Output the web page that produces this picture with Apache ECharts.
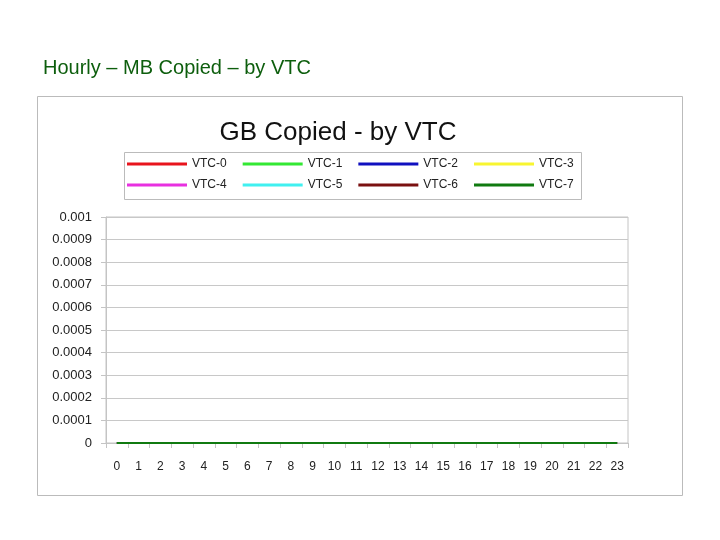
<!DOCTYPE html>
<html>
<head>
<meta charset="utf-8">
<script src="https://cdn.jsdelivr.net/npm/echarts@6/dist/echarts.min.js"></script>
<style>
  html, body { margin: 0; padding: 0; background: #fff; }
  #main { width: 720px; height: 540px; }
</style>
</head>
<body>
<div id="main"></div>
<script>
// hours of the day on the x axis
var hours = ['0','1','2','3','4','5','6','7','8','9','10','11','12','13','14','15','16','17','18','19','20','21','22','23'];
var vtcNames = ['VTC-0', 'VTC-1', 'VTC-2', 'VTC-3', 'VTC-4', 'VTC-5', 'VTC-6', 'VTC-7'];
var vtcColors = ['#e8141c', '#33e833', '#1010c0', '#f8f530', '#e830e0', '#40f0f0', '#7a1010', '#107a10'];
// GB copied per hour, nothing copied at all in the picture
var vtc0 = [0,0,0,0,0,0,0,0,0,0,0,0,0,0,0,0,0,0,0,0,0,0,0,0];
var vtc1 = [0,0,0,0,0,0,0,0,0,0,0,0,0,0,0,0,0,0,0,0,0,0,0,0];
var vtc2 = [0,0,0,0,0,0,0,0,0,0,0,0,0,0,0,0,0,0,0,0,0,0,0,0];
var vtc3 = [0,0,0,0,0,0,0,0,0,0,0,0,0,0,0,0,0,0,0,0,0,0,0,0];
var vtc4 = [0,0,0,0,0,0,0,0,0,0,0,0,0,0,0,0,0,0,0,0,0,0,0,0];
var vtc5 = [0,0,0,0,0,0,0,0,0,0,0,0,0,0,0,0,0,0,0,0,0,0,0,0];
var vtc6 = [0,0,0,0,0,0,0,0,0,0,0,0,0,0,0,0,0,0,0,0,0,0,0,0];
var vtc7 = [0,0,0,0,0,0,0,0,0,0,0,0,0,0,0,0,0,0,0,0,0,0,0,0];
var allData = [vtc0, vtc1, vtc2, vtc3, vtc4, vtc5, vtc6, vtc7];

var chartDom = document.getElementById('main');
var myChart = echarts.init(chartDom);
var option;

var font = 'Liberation Sans, Arial, sans-serif';

function legendRow(names, top) {
  return {
    data: names,
    top: top,
    left: 127,
    padding: 0,
    itemWidth: 60,
    itemHeight: 3,
    itemGap: 16,
    icon: 'rect',
    textStyle: { fontFamily: font, fontSize: 12, color: '#222' }
  };
}

option = {
  backgroundColor: '#fff',
  animation: false,
  color: vtcColors,
  title: [
    {
      text: 'Hourly – MB Copied – by VTC',
      left: 43,
      top: 58,
      padding: 0,
      textStyle: { fontFamily: font, fontSize: 20, fontWeight: 'normal', color: '#0d5e0d' }
    },
    {
      text: 'GB Copied - by VTC',
      left: 333,
      textAlign: 'center',
      top: 115,
      textStyle: { fontFamily: font, fontSize: 26, fontWeight: 'normal', color: '#111' }
    }
  ],
  graphic: [
    {
      type: 'rect',
      shape: { x: 37.5, y: 96.5, width: 645, height: 399 },
      style: { fill: 'none', stroke: '#bbb', lineWidth: 1 },
      z: -1
    },
    {
      type: 'rect',
      shape: { x: 124.5, y: 152.5, width: 457, height: 47 },
      style: { fill: 'none', stroke: '#bbb', lineWidth: 1 },
      z: -1
    }
  ],
  legend: [
    legendRow(vtcNames.slice(0, 4), 158),
    legendRow(vtcNames.slice(4, 8), 179)
  ],
  grid: {
    left: 106,
    right: 92,
    top: 217,
    bottom: 97,
    show: true,
    borderColor: '#c4c4c4',
    borderWidth: 1,
    outerBoundsMode: 'none'
  },
  xAxis: {
    type: 'category',
    data: hours,
    boundaryGap: true,
    axisLine: { lineStyle: { color: '#c4c4c4' } },
    axisTick: { show: true, length: 5, lineStyle: { color: '#c4c4c4' } },
    axisLabel: { fontFamily: font, fontSize: 12, color: '#222', margin: 18 }
  },
  yAxis: {
    type: 'value',
    min: 0,
    max: 0.001,
    interval: 0.0001,
    axisLine: { show: true, lineStyle: { color: '#c4c4c4' } },
    axisTick: { show: true, length: 5, lineStyle: { color: '#c4c4c4' } },
    splitLine: { lineStyle: { color: '#c8c8c8' } },
    axisLabel: {
      fontFamily: font, fontSize: 13, color: '#222', margin: 14,
      formatter: function (v) { return String(parseFloat(v.toPrecision(4))); }
    }
  },
  series: vtcNames.map(function (name, i) {
    return {
      name: name,
      type: 'line',
      data: allData[i],
      showSymbol: false,
      lineStyle: { width: 2 }
    };
  })
};

option && myChart.setOption(option);
</script>
</body>
</html>
